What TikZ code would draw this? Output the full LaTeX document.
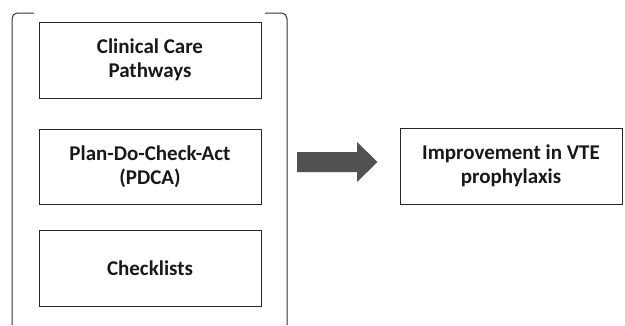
\documentclass[tikz,border=0pt]{standalone}
\usepackage{fontspec}
\setmainfont{Carlito}
\begin{document}
\begin{tikzpicture}[x=1pt,y=-1pt,
  box/.style={draw=black!85, line width=1pt, fill=white, align=center, font=\bfseries\fontsize{21}{23.5}\selectfont, text=black!90},
  brk/.style={draw=black!80, line width=1pt},
  bigarrow/.style={fill=black!68}]
\useasboundingbox (0,0) rectangle (625,325);
\node[box, minimum width=222pt, minimum height=76pt] (ccp) at (150,60) {Clinical Care\\Pathways};
\node[box, minimum width=222pt, minimum height=75pt] (pdca) at (150,166.5) {Plan-Do-Check-Act\\(PDCA)};
\node[box, minimum width=222pt, minimum height=76pt] (chk) at (150,268) {Checklists};
\node[box, minimum width=222pt, minimum height=76pt] (vte) at (511,166) {Improvement in VTE\\prophylaxis};
\coordinate (lt) at (12,325);
\coordinate (rt) at (287,325);
\draw[brk] (34,13) -- (17,13) to[out=180,in=90] (12,19) -- (lt);
\draw[brk] (265,13) -- (282,13) to[out=0,in=90] (287,19) -- (rt);
\fill[bigarrow] (297,152) -- (357,152) -- (357,142) -- (377.5,162) -- (357,182) -- (357,172) -- (297,172) -- cycle;
\end{tikzpicture}
\end{document}
